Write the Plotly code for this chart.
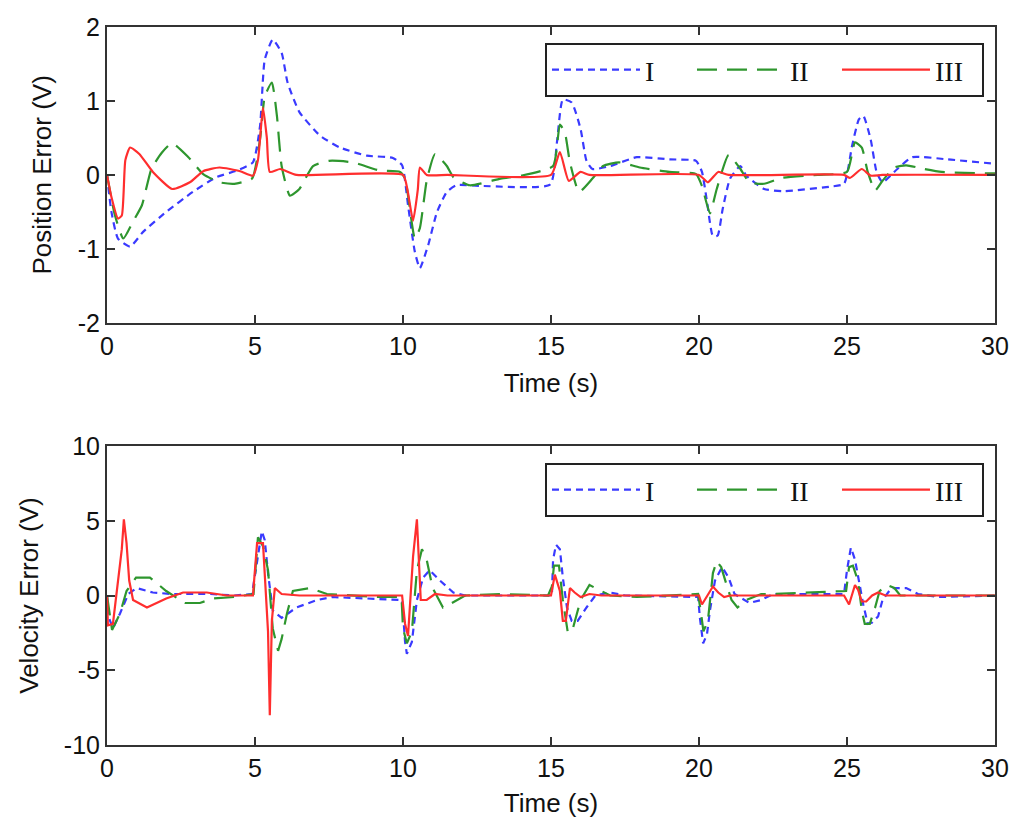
import plotly.graph_objects as go
from plotly.subplots import make_subplots

# ---- position error (top panel) ----
pos_t_I = [0, 0.15, 0.37, 0.78, 1.22, 2.0, 2.9, 3.7, 4.4, 4.93, 5.17, 5.33, 5.6, 5.9, 6.1, 6.5,
           7.2, 7.87, 8.78, 9.66, 9.97, 10.17, 10.4, 10.57, 10.85, 11.15, 11.48, 11.8, 12.7, 14.97,
           15.2, 15.4, 15.7, 16.0, 16.2, 16.4, 17.0, 17.9, 19.0, 19.9, 20.1, 20.27, 20.47, 20.63,
           20.8, 21.05, 21.4, 21.6, 22.2, 22.85, 24.4, 24.9, 25.17, 25.4, 25.55, 25.8, 26.0, 26.2,
           26.7, 27.2, 28.4, 30]
pos_I = [0, -0.5, -0.86, -0.97, -0.77, -0.5, -0.23, -0.03, 0.06, 0.17, 0.66, 1.56, 1.83, 1.65, 1.25, 0.85,
         0.53, 0.37, 0.26, 0.23, 0.13, -0.41, -1.04, -1.26, -0.95, -0.5, -0.23, -0.14, -0.15, -0.13,
         0.44, 1.02, 0.98, 0.62, 0.19, 0.08, 0.12, 0.24, 0.21, 0.19, 0.04, -0.36, -0.83, -0.82,
         -0.46, -0.05, 0.12, -0.01, -0.19, -0.22, -0.16, -0.12, 0.39, 0.75, 0.8, 0.48, 0.04, -0.1,
         0.08, 0.24, 0.21, 0.15]

pos_t_II = [0, 0.27, 0.55, 0.88, 1.18, 1.5, 1.85, 2.2, 2.75, 3.25, 3.8, 4.3, 4.9, 5.17, 5.33, 5.57,
            5.74, 5.9, 6.18, 6.5, 6.96, 7.5, 8.3, 9.2, 9.9, 10.07, 10.4, 10.57, 10.8, 11.08, 11.48,
            11.7, 12.26, 13.3, 14.0, 15.07, 15.3, 15.47, 15.64, 15.95, 16.4, 16.76, 17.3, 18.0, 19.0,
            19.9, 20.1, 20.37, 20.6, 21.0, 21.4, 21.7, 22.2, 22.8, 24.0, 25.0, 25.27, 25.5, 25.7,
            25.95, 26.2, 26.6, 27.0, 27.6, 28.2, 30]
pos_II = [0, -0.55, -0.86, -0.63, -0.41, 0.08, 0.3, 0.43, 0.24, 0.01, -0.1, -0.12, -0.05, 0.48, 1.06, 1.25,
          0.8, 0.12, -0.28, -0.19, 0.12, 0.19, 0.17, 0.06, 0.04, -0.05, -0.86, -0.72, -0.08, 0.28, 0.12,
          -0.03, -0.14, -0.05, -0.01, 0.12, 0.68, 0.57, 0.17, -0.23, -0.05, 0.12, 0.17, 0.1, 0.04,
          0.01, -0.15, -0.52, -0.19, 0.27, 0.08, -0.1, -0.12, -0.04, 0, 0.04, 0.44, 0.37, 0.04,
          -0.21, -0.08, 0.1, 0.13, 0.08, 0.04, 0.02]

pos_t_III = [0, 0.15, 0.37, 0.5, 0.62, 0.78, 1.1, 1.55, 2.2, 2.8, 3.25, 3.8, 4.5, 4.93, 5.1, 5.27,
             5.4, 5.5, 5.85, 6.4, 10.0, 10.15, 10.34, 10.5, 10.57, 10.8, 11.5, 15.0, 15.3, 15.6,
             16.0, 16.3, 20.0, 20.3, 20.65, 21.0, 24.9, 25.1, 25.5, 25.8, 26.2, 30]
pos_III = [0, -0.3, -0.59, -0.55, 0.2, 0.37, 0.28, 0.04, -0.19, -0.1, 0.05, 0.1, 0.05, -0.01, 0.2, 0.91,
           0.5, 0.04, 0.08, 0, 0, -0.2, -0.62, -0.2, 0.1, 0, 0, 0, 0.31, -0.08,
           0.04, 0, 0, -0.1, 0.04, 0, 0, -0.04, 0.08, -0.01, 0, 0]

# ---- velocity error (bottom panel) ----
vel_t_I = [0, 0.03, 0.2, 0.44, 0.72, 1.0, 1.55, 2.2, 3.5, 4.3, 4.9, 5.07, 5.23, 5.33, 5.44, 5.6,
           5.9, 6.4, 7.1, 7.6, 9.97, 10.07, 10.13, 10.3, 10.47, 10.68, 10.9, 11.25, 11.7, 12.1,
           15.03, 15.07, 15.17, 15.3, 15.4, 15.54, 15.7, 15.9, 16.2, 16.5, 17.0, 17.5, 19.97, 20.03,
           20.14, 20.27, 20.37, 20.54, 20.78, 21.0, 21.2, 21.7, 22.1, 22.5, 24.9, 25.0, 25.13, 25.27,
           25.4, 25.55, 25.7, 25.85, 26.05, 26.2, 26.5, 27.0, 27.4, 28.1, 30]
vel_I = [0, -1.3, -2.2, -1.2, 0.1, 0.5, 0.2, 0.1, 0.1, 0, 0.1, 2.2, 4.3, 3.7, 1.5, -1.0,
         -1.5, -0.8, -0.3, -0.1, -0.3, -3.1, -3.9, -3.1, -0.3, 1.2, 1.7, 1.0, 0.2, 0,
         0, 2.4, 3.4, 3.1, 1.2, -0.8, -1.7, -1.7, -0.8, 0, 0.2, 0, -0.1, -1.5,
         -3.2, -2.6, -1.0, 1.0, 1.9, 1.2, 0.1, -0.5, -0.3, 0.1, 0.1, 1.7, 3.2, 2.4,
         1.0, -0.6, -1.9, -1.8, -1.4, -0.3, 0.5, 0.5, 0.1, -0.1, 0]

vel_t_II = [0, 0.17, 0.44, 0.66, 0.98, 1.45, 2.0, 2.63, 3.14, 3.58, 4.3, 4.95, 5.1, 5.27, 5.44, 5.6,
            5.78, 5.9, 6.08, 6.28, 6.86, 7.43, 9.2, 9.95, 10.0, 10.13, 10.3, 10.47, 10.64, 10.8,
            11.0, 11.35, 11.65, 12.1, 13.3, 14.9, 15.03, 15.1, 15.27, 15.4, 15.57, 15.74, 16.0, 16.3,
            16.7, 17.0, 17.9, 19.97, 20.07, 20.15, 20.3, 20.47, 20.6, 20.75, 20.95, 21.1, 21.3, 21.6,
            22.1, 22.5, 24.97, 25.07, 25.2, 25.37, 25.5, 25.6, 25.77, 25.95, 26.1, 26.35, 26.6, 26.8,
            27.4, 30]
vel_II = [0, -2.3, -1.2, 0.3, 1.2, 1.2, 0.3, -0.5, -0.5, -0.2, -0.1, 0.1, 3.9, 3.3, 1.7, -2.2,
          -3.7, -2.9, -1.2, 0.3, 0.5, 0.1, -0.1, -0.1, -2.2, -3.2, -2.4, 1.7, 3.1, 2.4,
          0.5, -0.8, -0.5, 0, 0.1, 0, 0.6, 2.0, 2.0, -0.3, -2.5, -2.2, -0.3, 0.7,
          0.3, 0, -0.1, 0.1, -1.2, -2.4, -1.7, 1.5, 2.3, 1.9, 0.6, -0.3, -0.8, -0.3,
          0.1, 0.1, 0.3, 1.9, 2.0, 1.0, -1.0, -1.9, -1.9, -0.8, 0.3, 0.7, 0.5, 0,
          0, 0]

vel_t_III = [0, 0.03, 0.2, 0.37, 0.5, 0.57, 0.66, 0.75, 0.88, 1.35, 2.0, 2.57, 3.37, 4.05, 4.93, 5.07,
             5.27, 5.44, 5.5, 5.57, 5.67, 5.9, 6.5, 9.97, 10.07, 10.17, 10.34, 10.47, 10.54, 10.6,
             10.8, 11.08, 11.5, 15.0, 15.13, 15.3, 15.4, 15.5, 15.64, 15.8, 16.0, 16.3, 16.7, 20.0,
             20.1, 20.3, 20.47, 20.65, 20.85, 21.05, 24.9, 25.07, 25.27, 25.37, 25.5, 25.65, 25.85,
             26.05, 26.3, 30]
vel_III = [0, -2.0, -1.9, 1.0, 3.1, 5.1, 3.5, 1.0, -0.3, -0.8, -0.2, 0.2, 0.2, 0, 0, 3.5,
           3.5, -2.4, -8.0, -1.7, 0.5, 0.1, 0, 0, -1.9, -2.7, 2.6, 5.1, 2.2, -0.3,
           -0.3, 0.1, 0, 0, 1.4, 0.3, -1.7, -1.7, 0.5, 0.2, -0.1, 0.1, 0, 0,
           -0.6, 0, 0.6, 0.2, -0.1, 0, 0, -0.6, 0.7, 0.4, -0.4, -0.4, 0,
           0.2, 0, 0]

# tick labels (plain hyphen minus, as in the original figure)
pos_ticks = [-2, -1, 0, 1, 2]
pos_tick_text = ['-2', '-1', '0', '1', '2']
vel_ticks = [-10, -5, 0, 5, 10]
vel_tick_text = ['-10', '-5', '0', '5', '10']

labels = ['I', 'II', 'III']
colors = ['#3a3aff', '#2e962e', '#ff2e2e']
dashes = ['7px,5px', '20px,10px', 'solid']

fig = make_subplots(rows=2, cols=1, vertical_spacing=0.17)

top = [(pos_t_I, pos_I), (pos_t_II, pos_II), (pos_t_III, pos_III)]
bottom = [(vel_t_I, vel_I), (vel_t_II, vel_II), (vel_t_III, vel_III)]

for i, (t, v) in enumerate(top):
    fig.add_trace(go.Scatter(x=t, y=v, mode='lines', name=labels[i], legend='legend',
                             line=dict(color=colors[i], width=2.2, dash=dashes[i],
                                       shape='spline', smoothing=0.5)), row=1, col=1)
for i, (t, v) in enumerate(bottom):
    fig.add_trace(go.Scatter(x=t, y=v, mode='lines', name=labels[i], legend='legend2',
                             line=dict(color=colors[i], width=2.2, dash=dashes[i])),
                  row=2, col=1)

axis_style = dict(showline=True, mirror='ticks', linecolor='#333', linewidth=2,
                  ticks='inside', ticklen=8, tickwidth=2, tickcolor='#333',
                  showgrid=False, zeroline=False, automargin=False,
                  tickfont=dict(family='Liberation Sans, Arial', size=25, color='#111'))
title_font = dict(family='Liberation Sans, Arial', size=26, color='#111')

fig.update_xaxes(range=[0, 30], dtick=5, **axis_style)
fig.update_xaxes(title=dict(text='Time (s)', font=title_font, standoff=15), row=1, col=1)
fig.update_xaxes(title=dict(text='Time (s)', font=title_font, standoff=13), row=2, col=1)
fig.update_yaxes(**axis_style)
fig.update_yaxes(range=[-2, 2], tickvals=pos_ticks, ticktext=pos_tick_text, domain=[0.588, 1],
                 title=dict(text='Position Error (V)', font=title_font, standoff=19), row=1, col=1)
fig.update_yaxes(range=[-10, 10], tickvals=vel_ticks, ticktext=vel_tick_text, domain=[0, 0.4164],
                 title=dict(text='Velocity Error (V)', font=title_font, standoff=18), row=2, col=1)

legend_style = dict(orientation='h', xanchor='right', yanchor='top', x=0.9876,
                    bgcolor='white', bordercolor='#222', borderwidth=2,
                    itemwidth=88, entrywidth=42,
                    font=dict(family='Liberation Serif, Times New Roman', size=28, color='#111'))

fig.update_layout(
    width=1024, height=834,
    margin=dict(l=99, r=37, t=19, b=97),
    paper_bgcolor='white', plot_bgcolor='white',
    legend=dict(y=0.9777, **legend_style),
    legend2=dict(y=0.3928, **legend_style),
)

fig.write_html('out.html')
